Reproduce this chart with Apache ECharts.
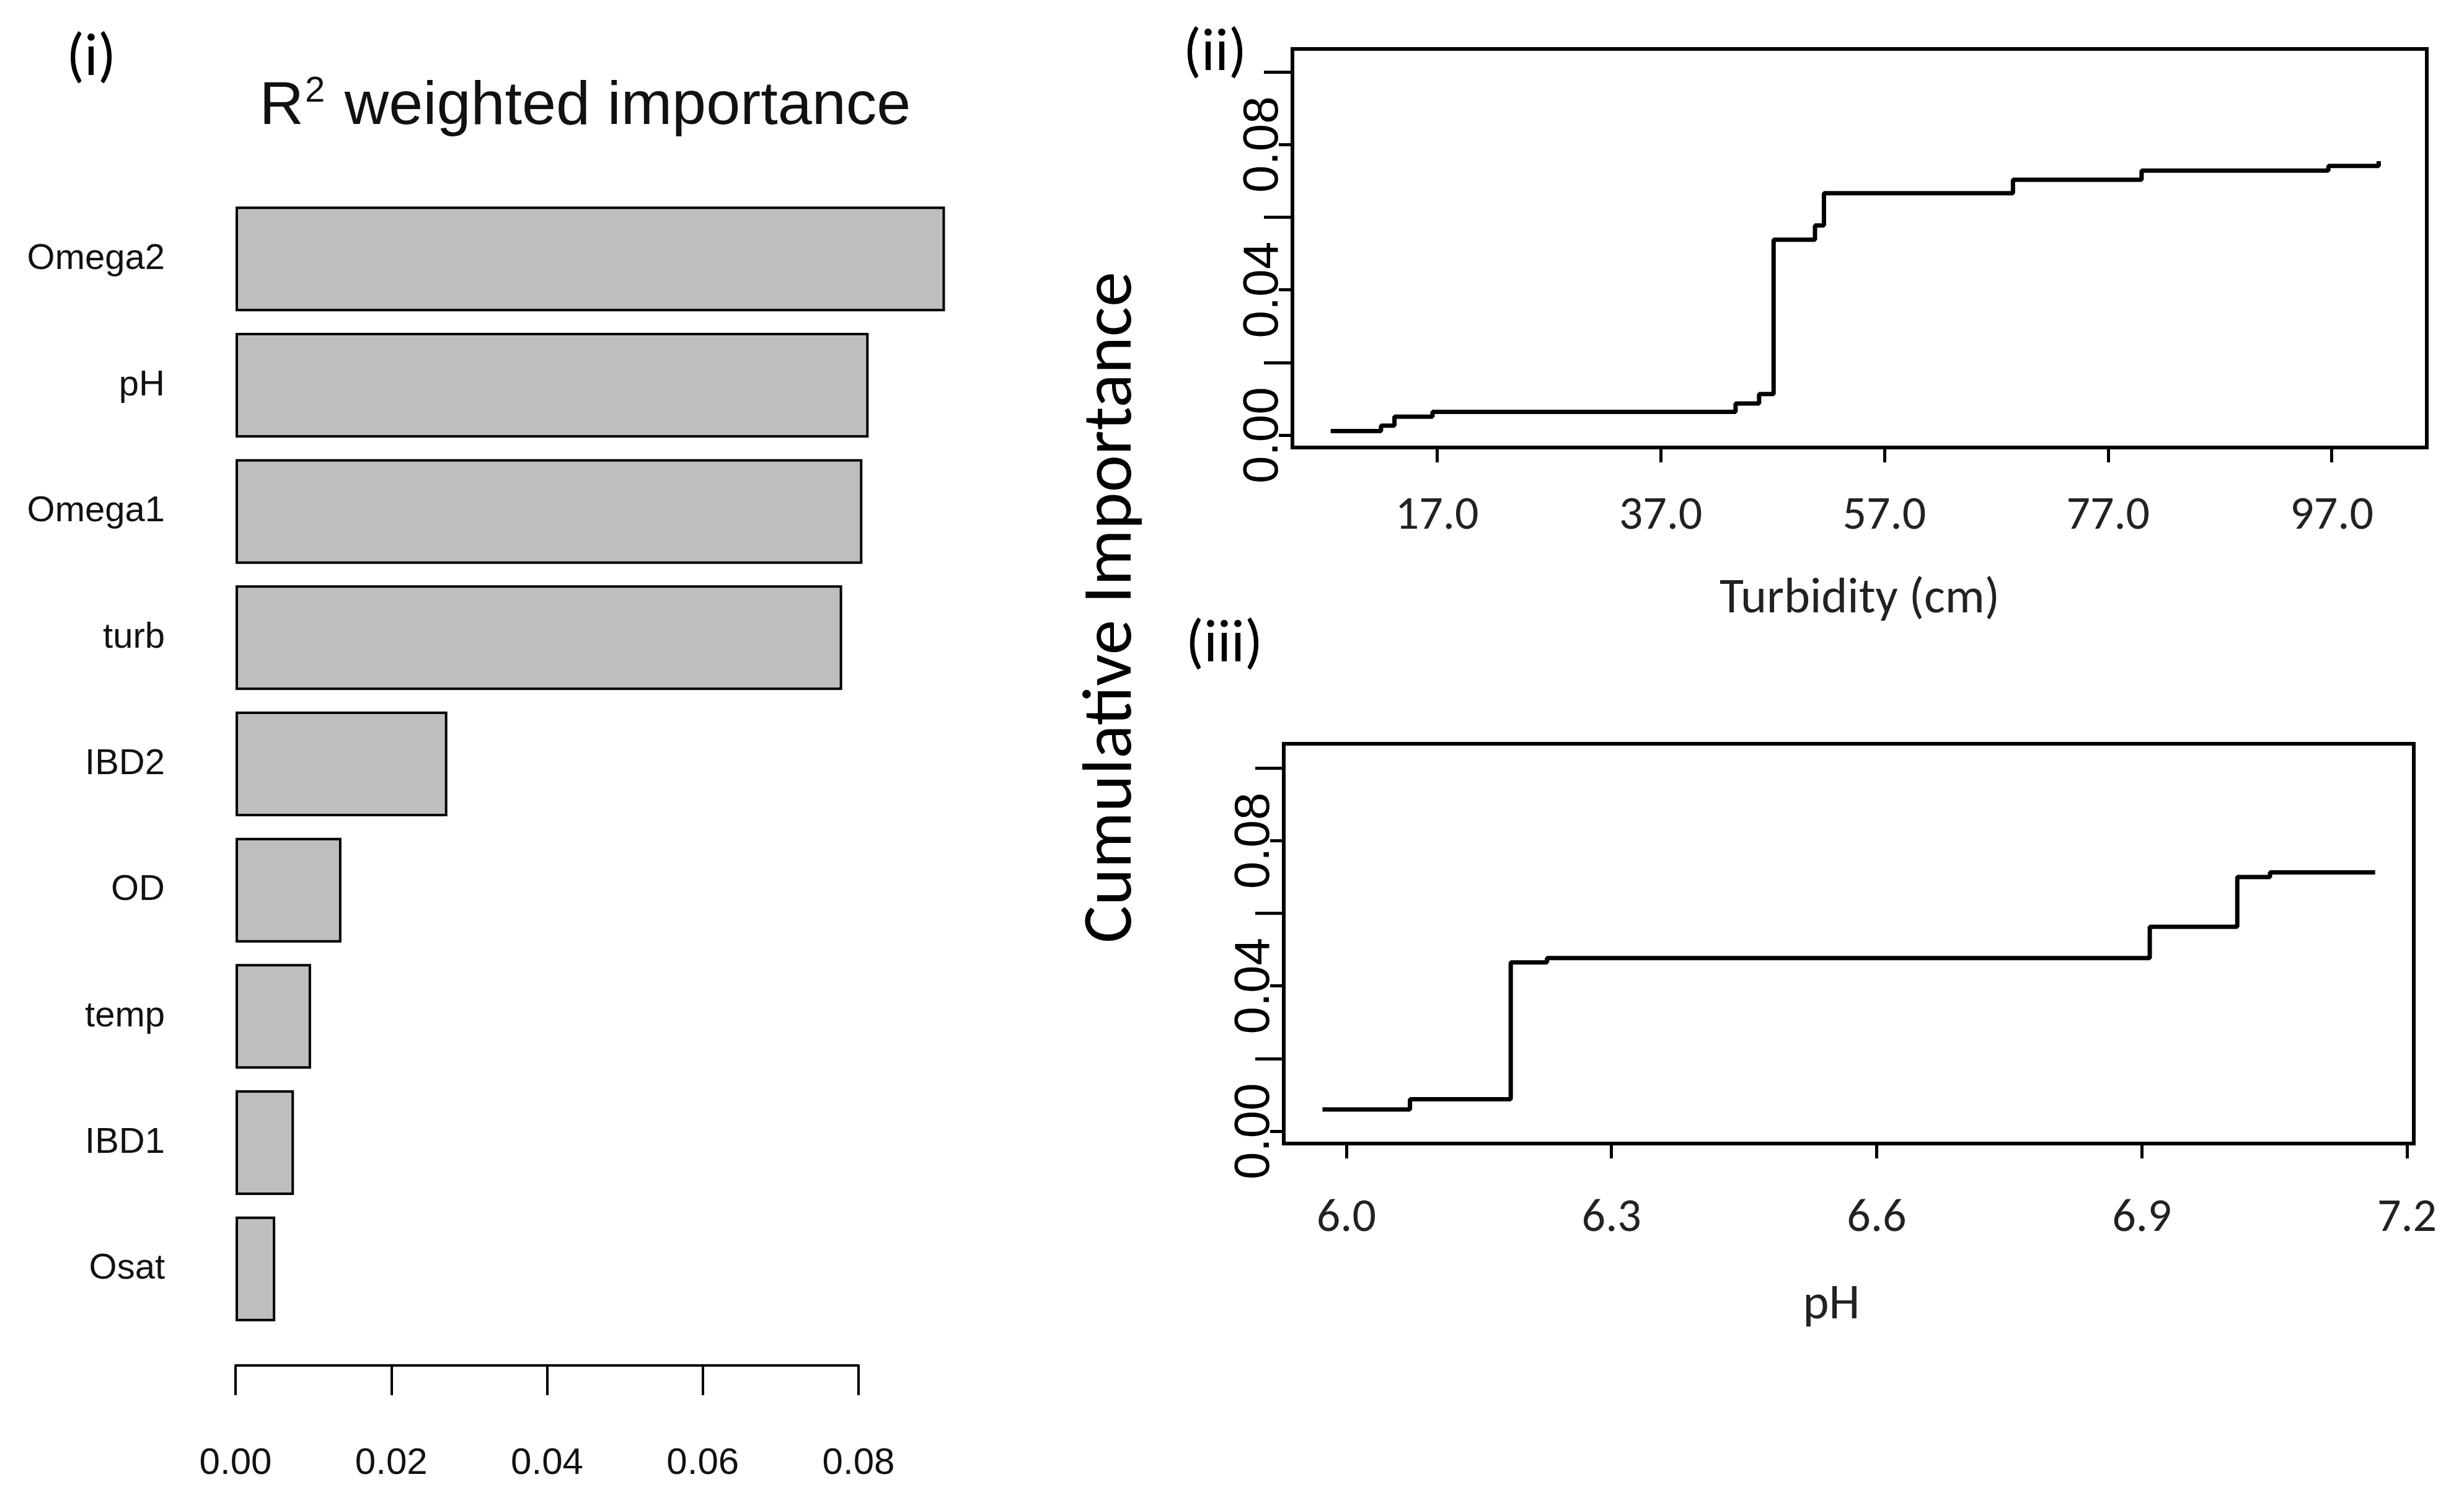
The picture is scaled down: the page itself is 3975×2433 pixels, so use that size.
<!DOCTYPE html>
<html>
<head>
<meta charset="utf-8">
<script src="https://cdn.jsdelivr.net/npm/echarts@6/dist/echarts.min.js"></script>
<style>
  html, body { margin: 0; padding: 0; background: #fff; }
  #main { width: 3975px; height: 2433px; }
</style>
</head>
<body>
<div id="main"></div>
<script>
// (i) R2 weighted importance
var predictors = ['Omega2', 'pH', 'Omega1', 'turb', 'IBD2', 'OD', 'temp', 'IBD1', 'Osat'];
var importance = [0.0911, 0.0813, 0.0805, 0.0779, 0.0272, 0.0136, 0.0097, 0.0075, 0.0051];

// (ii) cumulative importance vs turbidity
var turbX = [7.5, 12.0, 13.2, 16.6, 43.7, 45.8, 47.1, 50.8, 51.6, 68.5, 80.0, 96.7, 101.2];
var turbY = [0.0011, 0.0026, 0.0051, 0.0064, 0.0087, 0.0113, 0.0538, 0.0577, 0.0666, 0.0703, 0.0728, 0.0741, 0.0754];
var turbTicks = [17, 37, 57, 77, 97];

// (iii) cumulative importance vs pH
var phX = [5.973, 6.072, 6.186, 6.227, 6.909, 7.008, 7.045, 7.164];
var phY = [0.0060, 0.0088, 0.0465, 0.0477, 0.0563, 0.0700, 0.0713, 0.0713];
var phTicks = [6.0, 6.3, 6.6, 6.9, 7.2];

var cumLabelTicks = [0, 0.04, 0.08];
var cumMinorTicks = [0.02, 0.06, 0.10];

var rFont = '"Liberation Sans", Arial, sans-serif';
var cFont = 'Carlito, Lato, "Open Sans", sans-serif';

function pairs(xs, ys) {
    return xs.map(function (x, i) { return [x, ys[i]]; });
}

// two y axes per panel: long ticks + labels, short ticks under the labels
function cumAxes(gridIndex, min, max) {
    return [
        {
            type: 'value', gridIndex: gridIndex, min: min, max: max, position: 'left', offset: 0,
            splitLine: { show: false },
            axisLine: { show: true, onZero: false, lineStyle: { color: '#000', width: 6 } },
            axisTick: { show: true, length: 46, customValues: cumMinorTicks, lineStyle: { color: '#000', width: 5 } },
            axisLabel: {
                customValues: cumLabelTicks, rotate: 90, margin: 6,
                fontSize: 80, fontFamily: rFont, color: '#000',
                formatter: function (v) { return v.toFixed(2); }
            }
        },
        {
            type: 'value', gridIndex: gridIndex, min: min, max: max, position: 'left', offset: 0,
            splitLine: { show: false },
            axisLine: { show: false },
            axisTick: { show: true, length: 22, customValues: cumLabelTicks, lineStyle: { color: '#000', width: 5 } },
            axisLabel: { show: false }
        }
    ];
}

var myChart = echarts.init(document.getElementById('main'), null, { renderer: 'canvas' });
var option = {
    backgroundColor: '#fff',
    animation: false,
    grid: [
        { left: 380, top: 316, width: 1005, height: 1833 },
        { left: 2085, top: 79, width: 1830, height: 643, show: true, borderColor: '#000', borderWidth: 6 },
        { left: 2071, top: 1200, width: 1823, height: 645, show: true, borderColor: '#000', borderWidth: 6 }
    ],
    xAxis: [
        {
            type: 'value', gridIndex: 0, min: 0, max: 0.08, interval: 0.02, offset: 54,
            splitLine: { show: false },
            axisLine: { show: true, lineStyle: { color: '#000', width: 4 } },
            axisTick: { show: true, length: 48, lineStyle: { color: '#000', width: 4 } },
            axisLabel: {
                margin: 128, fontSize: 60, fontFamily: rFont, color: '#111',
                formatter: function (v) { return v.toFixed(2); }
            }
        },
        {
            type: 'value', gridIndex: 1, min: 4.08, max: 105.5,
            splitLine: { show: false },
            axisLine: { show: true, onZero: false, lineStyle: { color: '#000', width: 6 } },
            axisTick: { show: true, length: 24, customValues: turbTicks, lineStyle: { color: '#000', width: 5 } },
            axisLabel: {
                customValues: turbTicks, margin: 74, fontSize: 76, fontFamily: cFont, color: '#222',
                formatter: function (v) { return v.toFixed(1); }
            },
            name: 'Turbidity (cm)', nameLocation: 'middle', nameGap: 206,
            nameTextStyle: { fontSize: 80, fontFamily: cFont, color: '#222' }
        },
        {
            type: 'value', gridIndex: 2, min: 5.9292, max: 7.2077,
            splitLine: { show: false },
            axisLine: { show: true, onZero: false, lineStyle: { color: '#000', width: 6 } },
            axisTick: { show: true, length: 24, customValues: phTicks, lineStyle: { color: '#000', width: 5 } },
            axisLabel: {
                customValues: phTicks, margin: 84, fontSize: 76, fontFamily: cFont, color: '#222',
                formatter: function (v) { return v.toFixed(1); }
            },
            name: 'pH', nameLocation: 'middle', nameGap: 222,
            nameTextStyle: { fontSize: 80, fontFamily: cFont, color: '#222', padding: [0, 56, 0, 0] }
        }
    ],
    yAxis: [
        {
            type: 'category', gridIndex: 0, data: predictors, inverse: true,
            axisLine: { show: false },
            axisTick: { show: false },
            axisLabel: { margin: 114, fontSize: 58, fontFamily: rFont, color: '#111' }
        }
    ].concat(cumAxes(1, -0.0034, 0.1063), cumAxes(2, -0.0034, 0.1067)),
    series: [
        {
            type: 'bar', xAxisIndex: 0, yAxisIndex: 0, data: importance,
            barCategoryGap: '17%', clip: false,
            itemStyle: { color: '#bebebe', borderColor: '#000', borderWidth: 4 }
        },
        {
            type: 'line', xAxisIndex: 1, yAxisIndex: 1, data: pairs(turbX, turbY),
            step: 'end', showSymbol: false, symbol: 'none',
            lineStyle: { color: '#000', width: 7 }
        },
        {
            type: 'line', xAxisIndex: 2, yAxisIndex: 3, data: pairs(phX, phY),
            step: 'end', showSymbol: false, symbol: 'none',
            lineStyle: { color: '#000', width: 7 }
        }
    ],
    graphic: [
        { type: 'text', x: 147, y: 97, style: { text: '(i)', font: '96px ' + cFont, fill: '#000', textAlign: 'center', textVerticalAlign: 'middle' } },
        { type: 'text', x: 1960, y: 89, style: { text: '(ii)', font: '96px ' + cFont, fill: '#000', textAlign: 'center', textVerticalAlign: 'middle' } },
        { type: 'text', x: 1975, y: 1043, style: { text: '(iii)', font: '96px ' + cFont, fill: '#000', textAlign: 'center', textVerticalAlign: 'middle' } },
        {
            type: 'text', x: 1795, y: 980, rotation: Math.PI / 2,
            style: { text: 'Cumulative Importance', font: '114px ' + cFont, fill: '#000', textAlign: 'center', textVerticalAlign: 'middle' }
        },
        {
            type: 'text', x: 944, y: 173,
            style: {
                text: '{r|R}{s|2}{r| weighted importance}',
                textAlign: 'center', textVerticalAlign: 'middle',
                rich: {
                    r: { fontSize: 99, fontFamily: rFont, fill: '#111' },
                    s: { fontSize: 58, fontFamily: rFont, fill: '#111', padding: [0, 4, 50, 2] }
                }
            }
        }
    ]
};
if (option && typeof option === 'object') {
    myChart.setOption(option, true);
}
</script>
</body>
</html>
